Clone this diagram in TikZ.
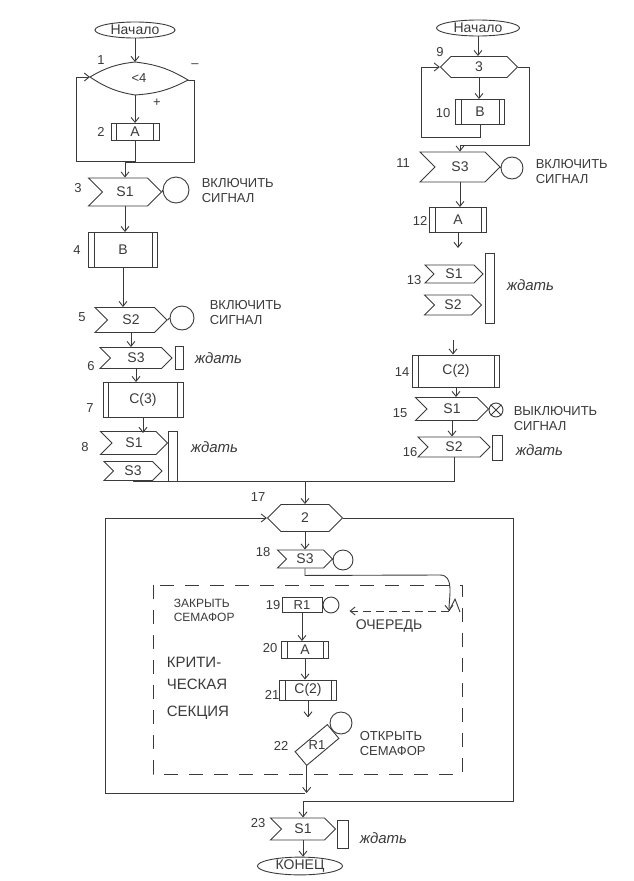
\documentclass[tikz,border=0pt]{standalone}
\usepackage{fontspec}
\setmainfont{Liberation Sans}
\usetikzlibrary{shapes.symbols,shapes.geometric,arrows.meta,calc}
\definecolor{ink}{HTML}{3A3A3A}
\begin{document}
\begin{tikzpicture}[x=1pt,y=-1pt,color=ink,line width=0.9pt,
  term/.style={ellipse,draw,inner sep=0pt,minimum height=16pt,font=\fontsize{14}{14}\selectfont},
  sig/.style={signal,signal from=west,signal to=east,draw,inner sep=0pt,font=\fontsize{14}{14}\selectfont},
  hexa/.style={signal,signal to=west and east,draw,inner sep=0pt,font=\fontsize{14}{14}\selectfont},
  pbox/.style={rectangle,draw,inner sep=0pt,font=\fontsize{14}{14}\selectfont,
    append after command={
      ([xshift=6pt]\tikzlastnode.north west) edge ([xshift=6pt]\tikzlastnode.south west)
      ([xshift=-6pt]\tikzlastnode.north east) edge ([xshift=-6pt]\tikzlastnode.south east)}},
  rbox/.style={rectangle,draw,inner sep=0pt,font=\fontsize{13}{13}\selectfont},
  bar/.style={rectangle,draw,inner sep=0pt},
  sc/.style={circle,draw,inner sep=0pt},
  num/.style={font=\fontsize{13}{13}\selectfont},
  note/.style={font=\fontsize{13}{15}\selectfont,align=left,anchor=west},
  waitt/.style={font=\itshape\fontsize{15}{15}\selectfont,anchor=west},
  arr/.style={-{Straight Barb[length=5pt,width=8pt]}},
  qarr/.style={-{Straight Barb[length=5pt,width=8pt]},dash pattern=on 8pt off 5pt},
  crit/.style={dash pattern=on 14pt off 11pt}
]
\useasboundingbox (0,0) rectangle (633,881);

% ---------------- left column ----------------
\node[term,minimum width=80pt] (start1) at (135,30) {Начало};
\coordinate (l1w) at (90,77);
\coordinate (l1n) at (135,62);
\coordinate (l1e) at (188,80);
\coordinate (l1s) at (135,95);
\draw (l1w) to[bend left=12] (l1n) to[bend left=12] (l1e) to[bend left=12] (l1s) to[bend left=12] (l1w);
\node[num] (l1t) at (139,78) {<4};
\node[num] (n1) at (101,60) {1};
\node[num] (minus) at (195,66) {–};
\node[num] (plus) at (157,103) {+};
\draw[arr] (start1.south) -- (l1n);
\node[pbox,minimum width=48pt,minimum height=17pt] (b2) at (135,132) {A};
\node[num] (n2) at (101,132) {2};
\draw[arr] (l1s) -- (b2.north);
\draw[arr] (b2.south) -- ++(0,20) -| ([xshift=-14pt]l1w) -- (l1w);
\node[sig,minimum width=73pt,minimum height=28pt] (s3) at (125,192) {S1};
\draw[arr] (l1e) -- ++(6,0) -- ++(0,82) -| (s3.north);
\node[num] (n3) at (78,188) {3};
\node[sc,minimum size=26pt] (c3) at (176,190) {};
\draw (s3.east) -- (c3.west);
\node[note] (t3) at (198,191) {ВКЛЮЧИТЬ\\СИГНАЛ};

\node[pbox,minimum width=69pt,minimum height=35pt] (b4) at (123,250) {B};
\node[num] (n4) at (77,250) {4};
\draw[arr] (s3.south) -- (s3.south |- b4.north);

\node[sig,minimum width=72pt,minimum height=25pt] (s5) at (131,320) {S2};
\node[num] (n5) at (82,317) {5};
\node[sc,minimum size=24pt] (c5) at (182,318) {};
\draw (s5.east) -- (c5.west);
\node[note] (t5) at (206,313) {ВКЛЮЧИТЬ\\СИГНАЛ};
\draw[arr] (b4.south) -- (b4.south |- s5.north);

\node[sig,minimum width=72pt,minimum height=21pt] (s6) at (136,358) {S3};
\node[num] (n6) at (91,366) {6};
\node[bar,minimum width=8pt,minimum height=23pt] (w6) at (179,358) {};
\node[waitt] (t6) at (191,358) {ждать};
\draw[arr] (s5.south) -- (s5.south |- s6.north);

\node[pbox,minimum width=80pt,minimum height=35pt] (b7) at (143,400) {C(3)};
\node[num] (n7) at (90,408) {7};
\draw[arr] (s6.south) -- (s6.south |- b7.north);

\node[sig,minimum width=67pt,minimum height=23pt] (s8a) at (134,443) {S1};
\node[sig,minimum width=58pt,minimum height=19pt] (s8b) at (133,471) {S3};
\node[bar,minimum width=9pt,minimum height=50pt] (w8) at (173,456) {};
\node[waitt] (t8) at (187,447) {ждать};
\node[num] (n8) at (85,447) {8};
\draw[arr] (b7.south) -- ++(0,15);

% ---------------- right column ----------------
\node[term,minimum width=83pt] (start2) at (478,28) {Начало};
\node[hexa,minimum width=77pt,minimum height=21pt] (h9) at (479,67) {3};
\node[num] (n9) at (440,52) {9};
\draw[arr] (start2.south) -- (start2.south |- h9.north);
\node[pbox,minimum width=49pt,minimum height=25pt] (b10) at (480,112) {B};
\node[num] (n10) at (443,113) {10};
\draw[arr] (h9.south) -- (h9.south |- b10.north);
\draw[arr] (b10.south) -- ++(0,12) -| ([xshift=-18pt]h9.west) -- (h9.west);
\node[sig,minimum width=80pt,minimum height=30pt] (s11) at (460,167) {S3};
\draw[arr] (h9.east) -- ++(11,0) -- ++(0,78) -| (s11.north);
\node[num] (n11) at (403,163) {11};
\node[sc,minimum size=22pt] (c11) at (512,168) {};
\draw (s11.east) -- (c11.west);
\node[note] (t11) at (532,172) {ВКЛЮЧИТЬ\\СИГНАЛ};

\node[pbox,minimum width=57pt,minimum height=25pt] (b12) at (458,220) {A};
\node[num] (n12) at (420,221) {12};
\draw[arr] (s11.south) -- (s11.south |- b12.north);

\node[sig,minimum width=58pt,minimum height=18pt] (s13a) at (454,274) {S1};
\node[sig,minimum width=57pt,minimum height=20pt] (s13b) at (453,305) {S2};
\node[bar,minimum width=9pt,minimum height=70pt] (w13) at (490,288) {};
\node[waitt] (t13) at (503,285) {ждать};
\node[num] (n13) at (414,280) {13};
\draw[arr] (b12.south) -- ++(0,15);

\node[pbox,minimum width=87pt,minimum height=32pt] (b14) at (456,371) {C(2)};
\node[num] (n14) at (402,372) {14};
\draw[arr] (s13b.south |- 0,340) -- (s13b.south |- b14.north);

\node[sig,minimum width=73pt,minimum height=23pt] (s15) at (452,409) {S1};
\node[num] (n15) at (400,413) {15};
\node[sc,minimum size=14pt] (c15) at (496,410) {};
\draw (c15.north east) -- (c15.south west) (c15.north west) -- (c15.south east);
\node[note] (t15) at (510,419) {ВЫКЛЮЧИТЬ\\СИГНАЛ};
\draw[arr] (b14.south) -- (b14.south |- s15.north);

\node[sig,minimum width=72pt,minimum height=20pt] (s16) at (454,447) {S2};
\node[bar,minimum width=10pt,minimum height=25pt] (w16) at (497,448) {};
\node[waitt] (t16) at (512,450) {ждать};
\node[num] (n16) at (410,452) {16};
\draw[arr] (s15.south) -- (s15.south |- s16.north);

% ---------------- merge and loop 17 ----------------
\node[hexa,minimum width=75pt,minimum height=27pt] (h17) at (305,518) {2};
\node[num] (n17) at (258,497) {17};
\coordinate (mj) at (305,481);
\draw (s8b.south) |- (mj);
\draw (s16.south) |- (mj);
\draw[arr] (mj) -- (h17.north);

\node[sig,minimum width=55pt,minimum height=18pt] (s18) at (305,559) {S3};
\node[num] (n18) at (263,552) {18};
\node[sc,minimum size=20pt] (c18) at (343,560) {};
\draw (s18.east) -- (c18.west);
\draw[arr] (h17.south) -- (s18.north);

% critical section frame
\draw[crit] (153,585) rectangle (462,774);

\node[rbox,minimum width=40pt,minimum height=15pt] (r19) at (302,605) {R1};
\node[sc,minimum size=16pt] (c19) at (331,605) {};
\node[num] (n19) at (273,605) {19};
\node[note,font=\fontsize{12}{14}\selectfont] (t19) at (170,610) {ЗАКРЫТЬ\\СЕМАФОР};

\coordinate (q) at (449,611);
\draw[arr] (s18.south) -- ++(0,7) -- (440,575) to[out=0,in=90] (q);
\draw (q) -- (455,599) -- (460,612);
\draw[qarr,shorten >=10pt] (q) -- (q -| c19.east);
\node[note,font=\fontsize{14}{14}\selectfont] (tq) at (352,626) {ОЧЕРЕДЬ};

\node[pbox,minimum width=47pt,minimum height=17pt] (b20) at (305,650) {A};
\node[num] (n20) at (270,648) {20};
\draw[arr] (r19.south) -- (r19.south |- b20.north);

\node[pbox,minimum width=57pt,minimum height=20pt] (b21) at (308,690) {C(2)};
\node[num] (n21) at (272,695) {21};
\draw[arr] (b20.south) -- (b20.south |- b21.north);

\node[rbox,minimum width=42pt,minimum height=18pt,rotate=40] (r22) at (317,745) {};
\node[font=\fontsize{13}{13}\selectfont,inner sep=0pt] (r22t) at (r22.center) {R1};
\node[sc,minimum size=22pt] (c22) at (341,723) {};
\node[num] (n22) at (281,746) {22};
\node[note] (t22) at (356,744) {ОТКРЫТЬ\\СЕМАФОР};
\draw[arr] (b21.south) -- ++(0,17);

\node[note,font=\fontsize{15}{15}\selectfont] (k1) at (163,662) {КРИТИ-};
\node[note,font=\fontsize{15}{15}\selectfont] (k2) at (163,684) {ЧЕСКАЯ};
\node[note,font=\fontsize{15}{15}\selectfont] (k3) at (163,713) {СЕКЦИЯ};

% loop 17 lines
\coordinate (lj) at (305,793);
\draw[arr] (r22.south west) -- (r22.south west |- lj);
\draw[arr] (lj) -- (105,793) -- (105,518) -- (h17.west);

\node[sig,minimum width=65pt,minimum height=22pt] (s23) at (303,829) {S1};
\node[bar,minimum width=11pt,minimum height=28pt] (w23) at (343,834) {};
\node[waitt] (t23) at (356,838) {ждать};
\node[num] (n23) at (258,823) {23};
\draw[arr] (h17.east) -- (513,518) -- (513,801) -| (s23.north);

\node[term,minimum width=85pt,minimum height=15pt] (end) at (300,866) {КОНЕЦ};
\draw[arr] (s23.south) -- (s23.south |- end.north);
\end{tikzpicture}
\end{document}
